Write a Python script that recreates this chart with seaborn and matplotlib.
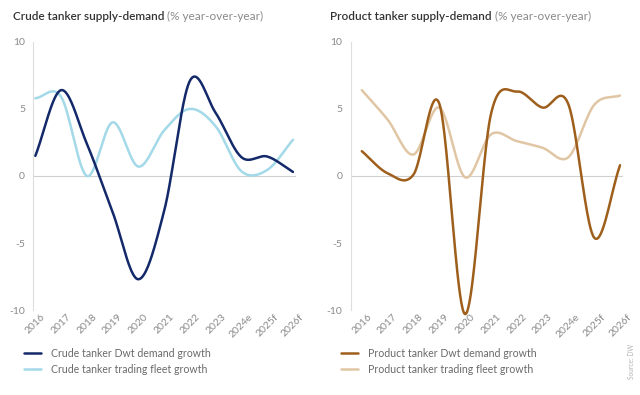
"""Crude and product tanker supply-demand, % year-over-year."""

import matplotlib.pyplot as plt
import numpy as np
import pandas as pd
import seaborn as sns
from matplotlib.lines import Line2D


sns.set_theme(style="white")
plt.rcParams["font.family"] = ["Lato", "DejaVu Sans"]

YEARS = ["2016", "2017", "2018", "2019", "2020", "2021",
         "2022", "2023", "2024e", "2025f", "2026f"]

CRUDE_DEMAND = [1.5, 6.4, 2.4, -2.7, -7.7, -2.6, 7.1, 4.7, 1.4, 1.45, 0.3]
CRUDE_FLEET = [5.8, 5.9, 0.0, 4.0, 0.7, 3.4, 5.0, 3.7, 0.35, 0.45, 2.7]
PRODUCT_DEMAND = [1.85, 0.2, 0.1, 5.4, -10.3, 4.6, 6.3, 5.1, 5.35, -4.6, 0.8]
PRODUCT_FLEET = [6.4, 4.2, 1.6, 5.1, -0.1, 3.1, 2.6, 2.1, 1.4, 5.3, 6.0]

PALETTE = {
    "Crude tanker Dwt demand growth": "#14296a",
    "Crude tanker trading fleet growth": "#a3d9e8",
    "Product tanker Dwt demand growth": "#9e5f1c",
    "Product tanker trading fleet growth": "#e0c6a4",
}

TEXT_DARK = "#333333"
TEXT_GREY = "#8a8a8a"


def smooth(values, steps=40):
    """Catmull-Rom style curve through the yearly points."""
    y = np.asarray(values, dtype=float)
    m = np.gradient(y)
    xs, ys = [], []
    for i in range(len(y) - 1):
        t = np.linspace(0, 1, steps, endpoint=False)
        h00 = 2 * t**3 - 3 * t**2 + 1
        h10 = t**3 - 2 * t**2 + t
        h01 = -2 * t**3 + 3 * t**2
        h11 = t**3 - t**2
        xs.append(i + t)
        ys.append(h00 * y[i] + h10 * m[i] + h01 * y[i + 1] + h11 * m[i + 1])
    xs.append([len(y) - 1])
    ys.append([y[-1]])
    return np.concatenate(xs), np.concatenate(ys)


def curve_frame(series):
    frames = []
    for name, values in series.items():
        x, y = smooth(values)
        frames.append(pd.DataFrame({"x": x, "value": y, "series": name}))
    return pd.concat(frames, ignore_index=True)


def draw_panel(fig, rect, title, series, xlim):
    ax = fig.add_axes(rect)
    df = curve_frame(series)
    names = list(series.keys())
    ax.axhline(0, color="#cfcfcf", lw=0.8, zorder=0)
    sns.lineplot(
        data=df, x="x", y="value", hue="series", hue_order=names[::-1],
        palette=PALETTE, sort=False, estimator=None, lw=1.8,
        legend=False, ax=ax,
    )
    for line in ax.get_lines():
        line.set_clip_on(False)
    ax.set_xlim(*xlim)
    ax.set_ylim(-10, 10)
    ax.set_yticks([-10, -5, 0, 5, 10])
    ax.set_yticklabels(["-10", "-5", "0", "5", "10"])
    ax.set_xticks(range(len(YEARS)))
    ax.set_xticklabels(YEARS, rotation=45)
    ax.set_xlabel("")
    ax.set_ylabel("")
    ax.tick_params(axis="both", length=0, labelsize=7.5, labelcolor=TEXT_GREY)
    ax.tick_params(axis="y", pad=6)
    ax.tick_params(axis="x", pad=1.5)
    sns.despine(ax=ax, bottom=True)
    ax.spines["left"].set_color("#dedede")
    ax.spines["left"].set_linewidth(0.8)

    handles = [Line2D([], [], color=PALETTE[n], lw=1.8) for n in names]
    ax.legend(
        handles, names, loc="upper left", bbox_to_anchor=(-0.05, -0.125),
        frameon=False, fontsize=7.6, labelcolor="#6a6a6a",
        handlelength=1.6, handletextpad=0.9, labelspacing=0.45,
        borderaxespad=0,
    )

    head = fig.text(rect[0] - 0.032, 0.945, title, fontsize=8.5,
                    fontweight="semibold", color=TEXT_DARK, va="bottom")
    ax.annotate(" (% year-over-year)", xy=(1, 0), xycoords=head,
                va="bottom", fontsize=8.5, color=TEXT_GREY)
    return ax


fig = plt.figure(figsize=(6.4, 3.95), dpi=100)

draw_panel(
    fig, [0.052, 0.215, 0.409, 0.679], "Crude tanker supply-demand",
    {"Crude tanker Dwt demand growth": CRUDE_DEMAND,
     "Crude tanker trading fleet growth": CRUDE_FLEET},
    (-0.08, 10.08),
)
draw_panel(
    fig, [0.548, 0.215, 0.424, 0.679], "Product tanker supply-demand",
    {"Product tanker Dwt demand growth": PRODUCT_DEMAND,
     "Product tanker trading fleet growth": PRODUCT_FLEET},
    (-0.43, 10.08),
)

fig.text(0.986, 0.085, "Source: DW", rotation=90, fontsize=4.8,
         color="#b5b5b5", ha="center", va="center")

fig.savefig("out.png", dpi=100)
